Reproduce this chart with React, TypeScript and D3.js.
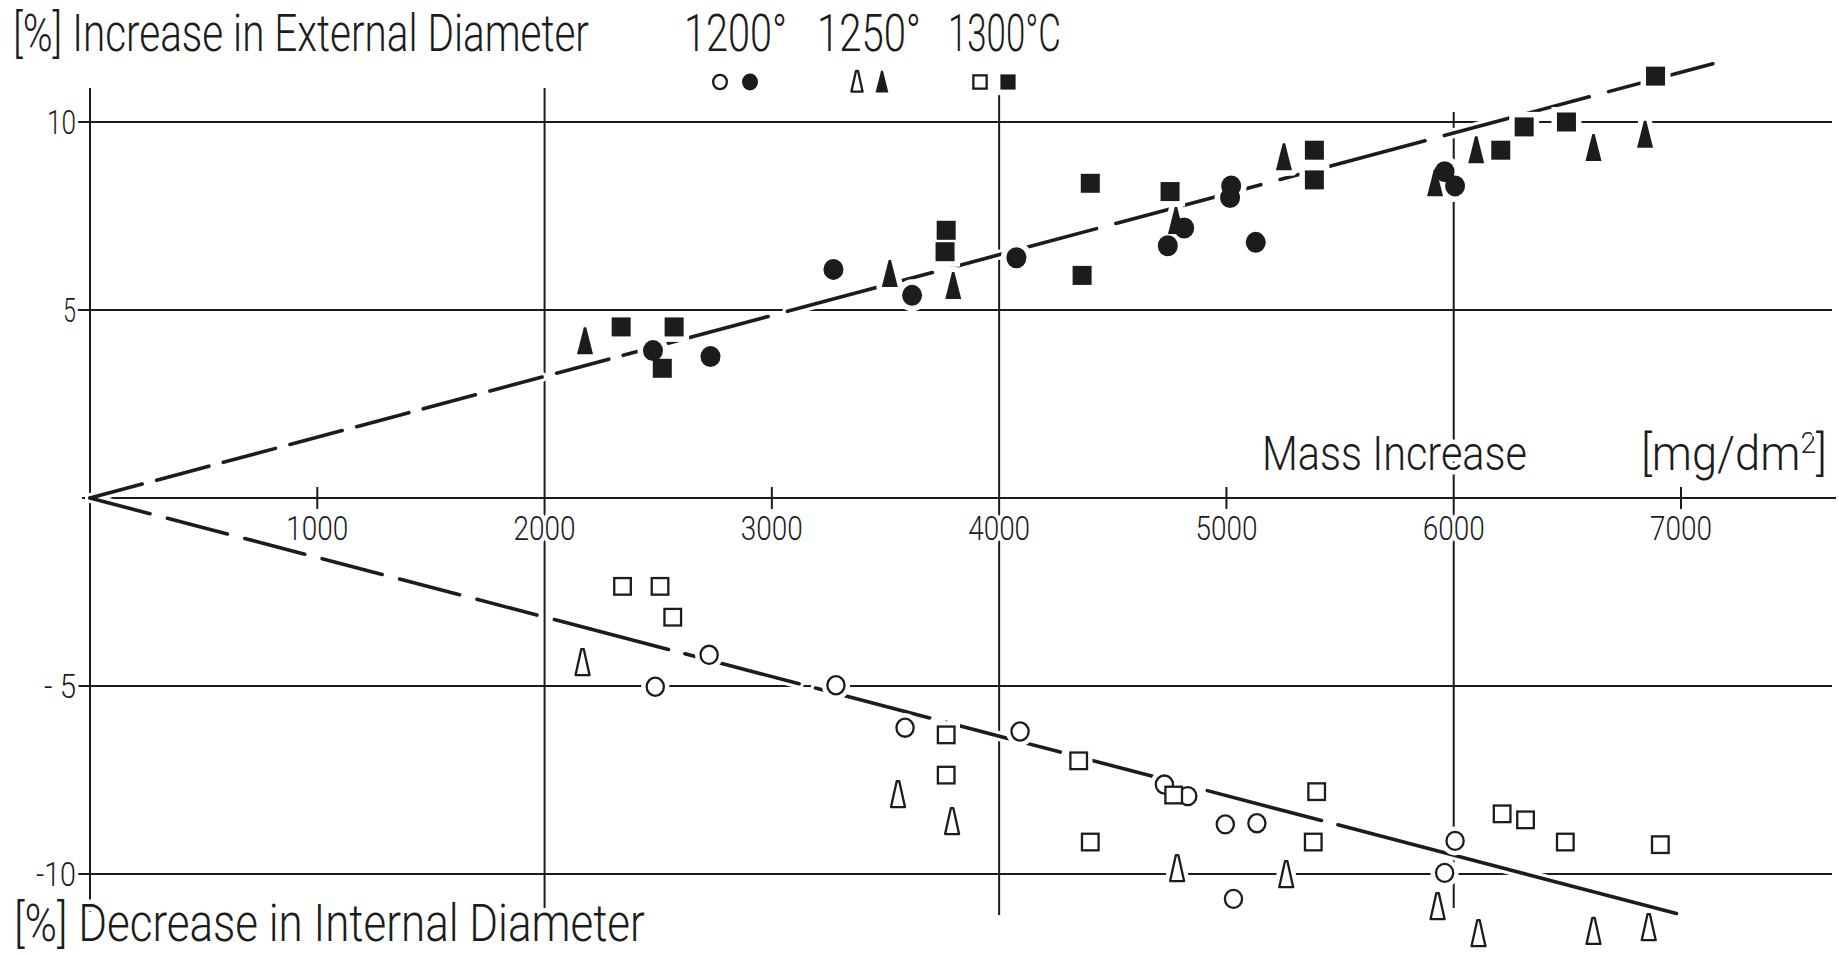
import { useLayoutEffect, useRef } from "react";
import * as d3 from "d3";

// temperature groups (legend header)
const temperatures = ["1200°", "1250°", "1300°C"];

const xTickValues = [1000, 2000, 3000, 4000, 5000, 6000, 7000];
const xGridValues = [2000, 4000, 6000];
const yTickValues = [10, 5, 0, -5, -10];
const yTickLabels = ["10", "5", "", "- 5", "-10"];

// increase in external diameter [%] vs mass increase [mg/dm2] (filled markers)
const ext1200 = [
  [2477, 3.92], [2730, 3.76], [3271, 6.08], [3617, 5.39], [4076, 6.39], [4742, 6.71],
  [4814, 7.18], [5021, 8.3], [5016, 7.99], [5129, 6.8], [5960, 8.68], [6006, 8.3],
];
const ext1250 = [
  [2178, 4.17], [3519, 5.96], [3798, 5.64], [4778, 7.37], [5253, 9.06], [5918, 8.37],
  [6099, 9.25], [6615, 9.31], [6842, 9.66],
];
const ext1300 = [
  [2337, 4.55], [2518, 3.45], [2570, 4.55], [3767, 7.12], [3762, 6.55], [4401, 8.37],
  [4365, 5.92], [4752, 8.15], [5387, 9.25], [5387, 8.46], [6207, 9.25], [6310, 9.87],
  [6496, 10.0], [6888, 11.22],
];

// decrease in internal diameter [%] (open markers)
const int1200 = [
  [2487, -5.02], [2724, -4.17], [3282, -4.98], [3586, -6.11], [4092, -6.21], [4727, -7.62],
  [4830, -7.93], [4995, -8.68], [5134, -8.65], [5031, -10.66], [6006, -9.12], [5960, -9.97],
];
const int1250 = [
  [2167, -4.39], [3555, -7.9], [3793, -8.62], [4783, -9.87], [5263, -10.03], [5929, -10.88],
  [6109, -11.6], [6615, -11.54], [6858, -11.44],
];
const int1300 = [
  [2343, -2.35], [2508, -2.35], [2564, -3.17], [3767, -6.3], [3767, -7.37], [4350, -6.99],
  [4401, -9.15], [4768, -7.9], [5397, -7.81], [5382, -9.15], [6213, -8.4], [6316, -8.56],
  [6491, -9.15], [6909, -9.22],
];

// fitted lines
const trendExt = [[0, 0], [7140, 11.55]];
const trendInt = [[0, 0], [6980, -11.05]];

const W = 1839;
const H = 955;
const FONT = "Roboto, 'DejaVu Sans', sans-serif";
const INK = "#1c1c1c";

const x = d3.scaleLinear().domain([0, 7000]).range([90, 1681]);
const y = d3.scaleLinear().domain([-10, 10]).range([874, 122]);
const line = d3.line<number[]>().x((d) => x(d[0])).y((d) => y(d[1]));

// dash pattern: short dashes near origin, longer ones later, solid tail
function dashes(pts: number[][], parts: [number, string][]) {
  const len = Math.hypot(x(pts[1][0]) - x(pts[0][0]), y(pts[1][1]) - y(pts[0][1]));
  const out: number[] = [];
  let pos = 0;
  for (const [frac, pat] of parts) {
    const stop = frac * len;
    const p = pat.split(" ").map(Number);
    while (pos < stop) {
      out.push(p[0], p[1]);
      pos += p[0] + p[1];
    }
  }
  out.push(len + 50, 0);
  return out.join(" ");
}

const extDash = dashes(trendExt, [[0.32, "54 15"], [1, "150 20"]]);
const intDash = dashes(trendInt, [[0.29, "62 18"], [0.76, "118 17"]]);

type Shape = "circle" | "triangle" | "square";

function Marker({ shape, cx, cy, filled, s = 1, halo = false }: any) {
  const fill = halo ? "#fff" : filled ? INK : "#fff";
  const stroke = halo ? "#fff" : INK;
  const sw = halo ? 11 : filled ? 0 : 2.3;
  if (shape === "circle") {
    const r = (filled ? 10 : 8.6) * s;
    return <ellipse cx={cx} cy={cy} rx={r} ry={r * 1.05} fill={fill} stroke={stroke} strokeWidth={sw} />;
  }
  if (shape === "square") {
    const a = (filled ? 19 : 16.6) * s;
    return <rect x={cx - a / 2} y={cy - a / 2} width={a} height={a} fill={fill} stroke={stroke} strokeWidth={sw} />;
  }
  const hw = (filled ? 8 : 7) * s;
  const top = 14 * s;
  const bot = (filled ? 13 : 12) * s;
  const nw = 1.2 * s;
  const d = `M${cx - nw},${cy - top}L${cx + nw},${cy - top}L${cx + hw},${cy + bot}L${cx - hw},${cy + bot}Z`;
  return <path d={d} fill={fill} stroke={stroke} strokeWidth={sw} strokeLinejoin="round" />;
}

// text squeezed horizontally to the width it has in the drawing
function FitText({ x: tx, y: ty, width, size, anchor = "start", children }: any) {
  const ref = useRef<SVGTextElement>(null);
  useLayoutEffect(() => {
    const el = ref.current;
    if (!el) return;
    const natural = el.getComputedTextLength();
    const k = natural > 0 ? width / natural : 1;
    el.setAttribute("transform", `translate(${tx},${ty}) scale(${k},1)`);
  }, [tx, ty, width]);
  return (
    <text ref={ref} x={0} y={0} fontSize={size} textAnchor={anchor} transform={`translate(${tx},${ty})`}>
      {children}
    </text>
  );
}

const series: { data: number[][]; shape: Shape; filled: boolean }[] = [
  { data: ext1200, shape: "circle", filled: true },
  { data: ext1250, shape: "triangle", filled: true },
  { data: ext1300, shape: "square", filled: true },
  { data: int1200, shape: "circle", filled: false },
  { data: int1250, shape: "triangle", filled: false },
  { data: int1300, shape: "square", filled: false },
];

const legendPos = [[720, 750], [857, 882], [980, 1008]];
const legendShapes: Shape[] = ["circle", "triangle", "square"];
const headerSpan = [[684, 103], [817, 104], [948, 113]];
const yLabelWidth = [29, 13, 0, 32, 40];

const haloText = { stroke: "#fff", strokeWidth: 9, paintOrder: "stroke" as const, strokeLinejoin: "round" as const };

export default function App() {
  const x0 = x(0);
  const y0 = y(0);
  return (
    <svg width={W} height={H} style={{ position: "absolute", left: 0, top: 0, background: "#fff" }}>
      <rect width={W} height={H} fill="#fff" />

      {/* grid */}
      <g stroke={INK} strokeWidth={2} fill="none">
        <line x1={x0} x2={x0} y1={88} y2={912} />
        {yTickValues.map((v) => (
          <line key={v} x1={v === 0 ? 82 : 77} x2={v === 0 ? 1836 : 1832} y1={y(v)} y2={y(v)} />
        ))}
        {xGridValues.map((v) => (
          <line key={v} x1={x(v)} x2={x(v)} y1={v === 6000 ? 112 : 88} y2={v === 6000 ? 908 : 915} />
        ))}
        {xTickValues.filter((v) => !xGridValues.includes(v)).map((v) => (
          <line key={v} x1={x(v)} x2={x(v)} y1={y0 - 11} y2={y0 + 11} />
        ))}
      </g>

      {/* trend lines */}
      <g fill="none" strokeLinecap="round">
        <path d={line(trendExt)!} stroke="#fff" strokeWidth={10} strokeDasharray={extDash} />
        <path d={line(trendInt)!} stroke="#fff" strokeWidth={10} strokeDasharray={intDash} />
        <path d={line(trendExt)!} stroke={INK} strokeWidth={3.6} strokeDasharray={extDash} />
        <path d={line(trendInt)!} stroke={INK} strokeWidth={3.6} strokeDasharray={intDash} />
      </g>

      {/* markers: halos first, then symbols */}
      {series.map((s, i) => (
        <g key={"h" + i}>
          {s.data.map((d, j) => (
            <Marker key={j} shape={s.shape} filled={s.filled} cx={x(d[0])} cy={y(d[1])} halo />
          ))}
        </g>
      ))}
      {series.map((s, i) => (
        <g key={"m" + i}>
          {s.data.map((d, j) => (
            <Marker key={j} shape={s.shape} filled={s.filled} cx={x(d[0])} cy={y(d[1])} />
          ))}
        </g>
      ))}

      {/* legend symbols */}
      {legendShapes.map((sh, i) => (
        <g key={sh}>
          <Marker shape={sh} filled={false} cx={legendPos[i][0]} cy={82} s={0.8} halo />
          <Marker shape={sh} filled cx={legendPos[i][1]} cy={82} s={0.8} halo />
          <Marker shape={sh} filled={false} cx={legendPos[i][0]} cy={82} s={0.8} />
          <Marker shape={sh} filled cx={legendPos[i][1]} cy={82} s={0.8} />
        </g>
      ))}

      {/* text */}
      <g fontFamily={FONT} fontWeight={300} fill={INK} {...haloText}>
        <FitText x={13} y={51} size={52} width={576}>
          [%] Increase in External Diameter
        </FitText>
        {temperatures.map((t, i) => (
          <FitText key={t} x={headerSpan[i][0]} y={51} size={52} width={headerSpan[i][1]}>
            {t}
          </FitText>
        ))}
        <FitText x={14} y={941} size={52} width={631}>
          [%] Decrease in Internal Diameter
        </FitText>
        <FitText x={1262} y={470} size={48} width={265}>
          Mass Increase
        </FitText>
        <FitText x={1641} y={470} size={48} width={186}>
          [mg/dm<tspan dy={-17} fontSize={30}>2</tspan><tspan dy={17}>]</tspan>
        </FitText>
        {xTickValues.map((v) => (
          <FitText key={v} x={x(v) - 31} y={540} size={33} width={62}>
            {v}
          </FitText>
        ))}
        {yTickValues.map((v, i) =>
          yTickLabels[i] ? (
            <FitText key={v} x={76} y={y(v) + 12} size={33} width={yLabelWidth[i]} anchor="end">
              {yTickLabels[i]}
            </FitText>
          ) : null
        )}
      </g>
    </svg>
  );
}
